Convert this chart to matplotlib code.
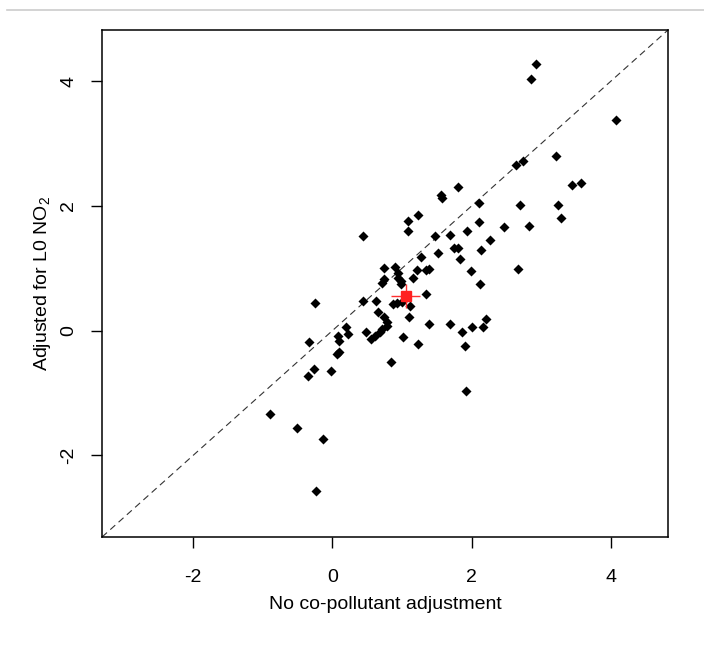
import matplotlib
matplotlib.use("Agg")
import matplotlib.pyplot as plt
from matplotlib.lines import Line2D

# values (x: no adjustment, y: adjusted for L0 NO2)
no_adjust = [
    2.92, 2.85, 4.07, 3.21, 2.63, 2.73, 3.44, 3.57, 1.80, 1.56,
    1.57, 2.10, 2.69, 3.24, 3.28, 1.23, 1.08, 1.08, 2.10, 2.46,
    2.82, 1.47, 1.69, 1.93, 2.26, 1.74, 1.81, 2.13, 1.51, 1.27,
    1.83, 1.21, 1.34, 1.38, 1.99, 2.66, 1.15, 2.12, 0.98, 1.35,
    1.11, 1.10, 1.38, 1.69, 1.86, 2.00, 2.16, 2.20, 1.01, 1.23,
    1.90, 1.92, 0.44, 0.74, 0.90, 0.94, 0.94, 0.98, 0.74, 0.71,
    0.44, 0.62, 0.87, 0.92, 1.00, 0.65, 0.74, 0.78, 0.79, 0.71,
    0.68, 0.61, 0.56, 0.48, 0.19, 0.22, 0.08, 0.10, -0.25, -0.33,
    0.06, 0.10, -0.27, -0.35, -0.02, 0.84, -0.90, -0.51, -0.14, -0.23,
]
adj_no2 = [
    4.27, 4.03, 3.38, 2.80, 2.66, 2.72, 2.33, 2.36, 2.31, 2.18,
    2.13, 2.05, 2.01, 2.02, 1.80, 1.86, 1.75, 1.59, 1.74, 1.66,
    1.67, 1.51, 1.53, 1.59, 1.45, 1.32, 1.32, 1.29, 1.24, 1.18,
    1.15, 0.97, 0.97, 0.99, 0.96, 0.99, 0.84, 0.75, 0.75, 0.59,
    0.40, 0.21, 0.11, 0.10, -0.03, 0.06, 0.06, 0.18, -0.11, -0.21,
    -0.25, -0.97, 1.51, 1.00, 1.02, 0.92, 0.84, 0.80, 0.83, 0.76,
    0.48, 0.48, 0.43, 0.45, 0.46, 0.30, 0.21, 0.13, 0.08, 0.02,
    -0.03, -0.08, -0.14, -0.03, 0.05, -0.05, -0.08, -0.16, 0.45, -0.18,
    -0.37, -0.35, -0.61, -0.73, -0.65, -0.51, -1.34, -1.56, -1.74, -2.58,
]

# pooled estimate with its uncertainty
pooled_x, pooled_y = 1.05, 0.56
pooled_xerr, pooled_yerr = 0.21, 0.19

ticks = [-2, 0, 2, 4]
lims = (-3.31, 4.82)

plt.rcParams["font.family"] = ["Liberation Sans", "DejaVu Sans"]
plt.rcParams["mathtext.fontset"] = "custom"
plt.rcParams["mathtext.rm"] = "Liberation Sans"
plt.rcParams["axes.unicode_minus"] = False

fig = plt.figure(figsize=(7.04, 6.46), dpi=100)
ax = fig.add_axes([0.1449, 0.1687, 0.8040, 0.7849])

# line of identity
ax.plot(lims, lims, color="#333333", lw=0.8, linestyle=(0, (6, 4)), zorder=1)

ax.scatter(no_adjust, adj_no2, marker="D", s=26, color="black", lw=0, zorder=2)

ax.errorbar(pooled_x, pooled_y, xerr=pooled_xerr, yerr=pooled_yerr,
            fmt="s", ms=6.5, color="#ff2020", ecolor="#ff3030", elinewidth=1.0,
            capsize=0, zorder=3)

ax.set_xlim(lims)
ax.set_ylim(lims)
ax.set_xticks(ticks)
ax.set_yticks(ticks)
ax.set_yticklabels([str(t) for t in ticks], rotation=90, va="center")
ax.tick_params(axis="both", length=8, width=1, labelsize=14, pad=15)
ax.tick_params(axis="y", pad=10)

for s in ax.spines.values():
    s.set_linewidth(1.1)

ax.set_xlabel("No co-pollutant adjustment", fontsize=14, labelpad=7)
ax.set_ylabel(r"Adjusted for L0 NO$_2$", fontsize=14, labelpad=5)

# thin page rule above the plot
fig.add_artist(Line2D([0.01, 1.0], [1 - 10 / 646, 1 - 10 / 646],
                      color="#cccccc", lw=1.2, transform=fig.transFigure))

fig.savefig("out.png", dpi=100)
